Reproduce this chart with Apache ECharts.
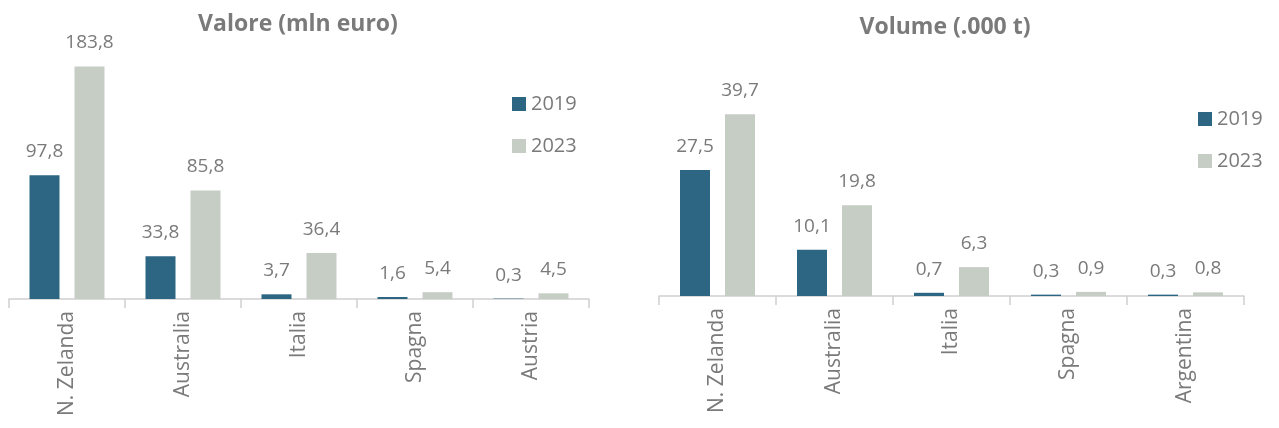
<!DOCTYPE html>
<html>
<head>
<meta charset="utf-8">
<script src="https://cdn.jsdelivr.net/npm/echarts@6/dist/echarts.min.js"></script>
<style>
  html, body { margin: 0; padding: 0; background: #fff; }
  #chart { width: 1279px; height: 428px; }
</style>
</head>
<body>
<div id="chart"></div>
<script>
// Valore (mln euro)
const valoreCats = ["N. Zelanda", "Australia", "Italia", "Spagna", "Austria"];
const valore2019 = [97.8, 33.8, 3.7, 1.6, 0.3];
const valore2023 = [183.8, 85.8, 36.4, 5.4, 4.5];

// Volume (.000 t)
const volumeCats = ["N. Zelanda", "Australia", "Italia", "Spagna", "Argentina"];
const volume2019 = [27.5, 10.1, 0.7, 0.3, 0.3];
const volume2023 = [39.7, 19.8, 6.3, 0.9, 0.8];

const years = ["2019", "2023"];
const colors = ["#2c6682", "#c6cdc5"];

const font = "'Open Sans', 'Liberation Sans', sans-serif";
const gray = "#7a7a7a";

const fmt = (p) => String(p.value).replace(".", ",");

function barSeries(name, data, idx, color) {
	return {
		type: "bar",
		name: name,
		xAxisIndex: idx,
		yAxisIndex: idx,
		data: data,
		barWidth: 30,
		barGap: "50%",
		itemStyle: { color: color },
		label: {
			show: true,
			position: "top",
			distance: 14,
			formatter: fmt,
			color: gray,
			fontFamily: font,
			fontSize: 19,
		},
	};
}

function catAxis(idx, cats) {
	return {
		type: "category",
		gridIndex: idx,
		data: cats,
		boundaryGap: true,
		axisLine: { show: true, lineStyle: { color: "#cfcfcf", width: 1.5 } },
		axisTick: { show: true, alignWithLabel: false, interval: 0, length: 9, lineStyle: { color: "#cfcfcf", width: 1.5 } },
		axisLabel: {
			rotate: 90,
			margin: 12,
			color: gray,
			fontFamily: font,
			fontSize: 21,
		},
	};
}

const legendBase = {
	orient: "vertical",
	itemWidth: 14,
	itemHeight: 14,
	itemGap: 22,
	icon: "rect",
	textStyle: { color: gray, fontFamily: font, fontSize: 20 },
	data: years,
};

const chart = echarts.init(document.getElementById("chart"));
chart.setOption({
	animation: false,
	title: [
		{
			text: "Valore (mln euro)",
			left: 293,
			top: 8,
			textAlign: "center",
			textStyle: { color: gray, fontFamily: font, fontSize: 23, fontWeight: "bold" },
		},
		{
			text: "Volume (.000 t)",
			left: 940,
			top: 11,
			textAlign: "center",
			textStyle: { color: gray, fontFamily: font, fontSize: 23, fontWeight: "bold" },
		},
	],
	legend: [
		Object.assign({}, legendBase, { left: 507, top: 89 }),
		Object.assign({}, legendBase, { left: 1193, top: 104 }),
	],
	grid: [
		{ left: 9, width: 580, top: 46, bottom: 129 },
		{ left: 659, width: 585, top: 90, bottom: 132 },
	],
	xAxis: [catAxis(0, valoreCats), catAxis(1, volumeCats)],
	yAxis: [
		{ type: "value", gridIndex: 0, min: 0, max: 200, show: false },
		{ type: "value", gridIndex: 1, min: 0, max: 45, show: false },
	],
	series: [
		barSeries(years[0], valore2019, 0, colors[0]),
		barSeries(years[1], valore2023, 0, colors[1]),
		barSeries(years[0], volume2019, 1, colors[0]),
		barSeries(years[1], volume2023, 1, colors[1]),
	],
});
</script>
</body>
</html>
